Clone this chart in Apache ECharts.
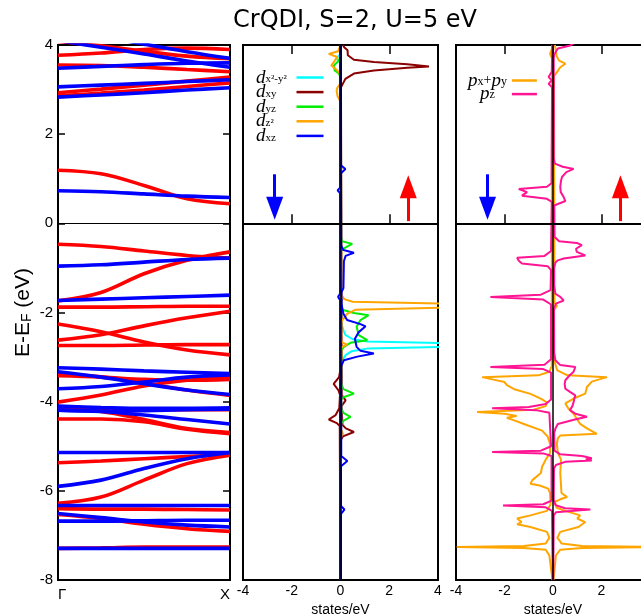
<!DOCTYPE html>
<html><head><meta charset="utf-8">
<script src="https://cdn.jsdelivr.net/npm/echarts@6/dist/echarts.min.js"></script>
<style>html,body{margin:0;padding:0;background:#fff}#c{width:641px;height:616px}</style>
</head><body><div id="c"></div>
<script>
// ---- band structure: k samples along Γ → X (fractional path length) ----
const kPath = [0, 0.25, 0.5, 0.75, 1];
const kLabels = ['Γ', 'X'];

// spin-up bands, E - E_F (eV) at each k sample
const bandsUp = [
  [1.19, 1.11, 0.85, 0.55, 0.44],
  [-0.47, -0.52, -0.62, -0.72, -0.78],
  [-1.74, -1.55, -1.13, -0.83, -0.64],
  [-1.88, -1.88, -1.87, -1.86, -1.86],
  [-2.26, -2.43, -2.66, -2.84, -2.95],
  [-2.62, -2.50, -2.30, -2.12, -1.97],
  [-2.74, -2.74, -2.73, -2.72, -2.72],
  [-3.38, -3.44, -3.58, -3.74, -3.86],
  [-4.01, -3.85, -3.65, -3.52, -3.46],
  [-3.42, -3.45, -3.50, -3.52, -3.50],
  [-4.15, -4.22, -4.40, -4.60, -4.69],
  [-4.39, -4.39, -4.45, -4.62, -4.72],
  [-4.14, -4.16, -4.17, -4.18, -4.18],
  [-5.37, -5.33, -5.28, -5.23, -5.19],
  [-6.28, -6.14, -5.76, -5.39, -5.20],
  [-6.40, -6.41, -6.41, -6.42, -6.43],
  [-6.53, -6.62, -6.75, -6.85, -6.91],
  [-7.29, -7.28, -7.26, -7.26, -7.26],
  [2.86, 2.92, 2.99, 3.07, 3.15],
  [2.93, 3.01, 3.10, 3.19, 3.28],
  [3.55, 3.54, 3.50, 3.45, 3.40],
  [3.77, 3.82, 3.90, 3.93, 3.90],
  [4.08, 3.98, 3.86, 3.75, 3.69]
];

// spin-down bands, E - E_F (eV) at each k sample
const bandsDown = [
  [0.73, 0.71, 0.66, 0.61, 0.58],
  [-0.96, -0.93, -0.87, -0.81, -0.78],
  [-1.73, -1.70, -1.67, -1.64, -1.61],
  [-3.24, -3.27, -3.31, -3.34, -3.37],
  [-3.33, -3.45, -3.60, -3.74, -3.84],
  [-3.71, -3.66, -3.56, -3.45, -3.40],
  [-4.10, -4.13, -4.15, -4.15, -4.14],
  [-4.19, -4.21, -4.20, -4.18, -4.17],
  [-4.19, -4.22, -4.30, -4.40, -4.50],
  [-5.14, -5.14, -5.14, -5.14, -5.14],
  [-5.90, -5.76, -5.50, -5.28, -5.14],
  [-6.33, -6.33, -6.33, -6.33, -6.33],
  [-6.51, -6.60, -6.70, -6.77, -6.81],
  [-6.68, -6.68, -6.67, -6.66, -6.66],
  [-7.29, -7.29, -7.29, -7.29, -7.29],
  [2.83, 2.88, 2.93, 2.99, 3.04],
  [3.06, 3.10, 3.14, 3.18, 3.22],
  [3.48, 3.52, 3.56, 3.59, 3.60],
  [4.10, 3.95, 3.80, 3.64, 3.50],
  [4.40, 4.20, 4.02, 3.85, 3.70]
];

// ---- Cr d-projected DOS: [E - E_F (eV), states/eV]; spin up > 0, spin down < 0 ----
const dx2y2Up = [[-8,0.01],[-3.2,0.02],[-3.05,0.1],[-2.95,0.22],[-2.87,0.45],[-2.81,1.1],[-2.77,4.5],[-2.73,9],[-2.69,4.5],[-2.65,1.1],[-2.6,0.5],[-2.5,0.2],[-2.4,0.12],[-2.25,0.04],[4,0.01]];
const dx2y2Dn = [[-8,-0.01],[3.6,-0.01],[3.7,-0.18],[3.78,-0.02],[4,-0.01]];
const dxyUp = [[-8,0.01],[-7.32,0.01],[-7.28,0.06],[-7.24,0.01],[-4.85,0.02],[-4.78,0.1],[-4.68,0.55],[-4.6,0.22],[-4.52,0.08],[-4.1,0.04],[-3.97,0.21],[-3.85,0.05],[3.05,0.02],[3.24,0.2],[3.36,0.55],[3.43,1.37],[3.49,2.74],[3.52,3.63],[3.57,2.74],[3.62,1.37],[3.67,0.55],[3.77,0.3],[3.88,0.29],[3.95,0.15],[4,0.1]];
const dxyDn = [[-8,-0.01],[-7.3,-0.01],[-7.28,-0.05],[-7.26,-0.01],[-4.55,-0.03],[-4.48,-0.15],[-4.40,-0.48],[-4.3,-0.2],[-4.15,-0.05],[-3.85,-0.02],[-3.75,-0.08],[-3.6,-0.28],[-3.45,-0.06],[-3.3,-0.01],[4,-0.01]];
const dyzUp = [[-8,0.01],[-4.5,0.02],[-4.43,0.12],[-4.34,0.41],[-4.25,0.12],[-4.15,0.03],[-3.95,0.03],[-3.9,0.12],[-3.82,0.55],[-3.72,0.12],[-3.6,0.03],[-2.85,0.03],[-2.77,0.14],[-2.68,0.41],[-2.62,1.1],[-2.51,0.75],[-2.32,0.66],[-2.17,0.82],[-2.06,1.15],[-2.01,0.55],[-1.94,0.07],[-1.85,0.02],[-0.6,0.02],[-0.52,0.27],[-0.46,0.48],[-0.4,0.07],[-0.3,0.02],[4,0.01]];
const dyzDn = [[-8,-0.01],[3.3,-0.02],[3.36,-0.07],[3.43,-0.24],[3.54,-0.27],[3.65,-0.07],[3.72,-0.02],[4,-0.01]];
const dz2Up = [[-8,0.01],[-4.8,0.02],[-4.72,0.1],[-4.62,0.03],[-2.78,0.03],[-2.72,0.27],[-2.66,0.03],[-2.2,0.04],[-2.03,0.27],[-1.94,0.6],[-1.89,4.3],[-1.845,9],[-1.8,4.3],[-1.76,0.5],[-1.7,0.15],[-1.6,0.04],[4,0.01]];
const dz2Dn = [[-8,-0.01],[2.75,-0.02],[2.85,-0.12],[2.98,-0.16],[3.05,-0.12],[3.12,-0.02],[3.36,-0.02],[3.39,-0.07],[3.47,-0.21],[3.54,-0.38],[3.62,-0.27],[3.73,-0.14],[3.80,-0.48],[3.86,-0.1],[3.95,-0.03],[4,-0.02]];
const dxzUp = [[-8,0.02],[-6.52,0.02],[-6.42,0.16],[-6.34,0.02],[-5.45,0.02],[-5.33,0.28],[-5.22,0.03],[-3.2,0.03],[-3.07,0.14],[-2.99,0.69],[-2.92,1.37],[-2.86,0.82],[-2.77,0.66],[-2.59,0.59],[-2.44,0.75],[-2.31,1.03],[-2.26,0.82],[-2.17,0.27],[-2.03,0.12],[-1.8,0.04],[-1.55,0.04],[-1.45,0.12],[-0.85,0.14],[-0.73,0.21],[-0.66,0.55],[-0.6,0.12],[-0.5,0.03],[1.12,0.02],[1.22,0.2],[1.3,0.02],[4,0.02]];
const dxzDn = [[-8,-0.02],[-1.72,-0.02],[-1.65,-0.1],[-1.58,-0.02],[0.68,-0.02],[0.74,-0.12],[0.8,-0.02],[4,-0.02]];

// ---- ligand p-projected DOS ----
const pxyUp = [[-8,0.02],[-7.45,0.12],[-7.32,0.3],[-7.28,1.2],[-7.26,5],[-7.24,1.2],[-7.18,0.35],[-7.05,0.18],[-6.92,0.3],[-6.81,1.05],[-6.7,1.33],[-6.62,1.0],[-6.55,1.12],[-6.45,0.51],[-6.38,0.15],[-6.25,0.08],[-6.19,0.3],[-6.14,0.58],[-6.05,0.35],[-5.6,0.3],[-5.3,0.33],[-5.15,0.2],[-4.95,0.16],[-4.82,0.2],[-4.76,0.3],[-4.72,1.81],[-4.6,1.4],[-4.5,1.12],[-4.4,1.0],[-4.27,0.85],[-4.16,0.64],[-4.04,0.51],[-3.93,0.85],[-3.82,1.33],[-3.67,1.4],[-3.55,1.6],[-3.45,2.22],[-3.41,0.6],[-3.3,0.18],[-3.1,0.06],[-1.95,0.04],[-1.85,0.16],[-1.78,0.06],[3.3,0.04],[3.42,0.2],[3.5,0.3],[3.58,0.51],[3.65,0.25],[3.75,0.15],[4,0.08]];
const pxyDn = [[-8,-0.02],[-7.45,-0.15],[-7.32,-0.3],[-7.28,-1.2],[-7.26,-3.97],[-7.24,-1.2],[-7.18,-0.3],[-7.05,-0.15],[-6.92,-0.25],[-6.81,-0.93],[-6.75,-1.48],[-6.7,-1.3],[-6.62,-1.48],[-6.55,-0.93],[-6.45,-0.25],[-6.3,-0.1],[-6.05,-0.12],[-5.95,-0.2],[-5.88,-0.55],[-5.84,-0.93],[-5.76,-0.85],[-5.6,-0.5],[-5.46,-0.45],[-5.3,-0.3],[-5.15,-0.12],[-4.95,-0.12],[-4.78,-0.22],[-4.65,-0.45],[-4.5,-1.2],[-4.42,-1.6],[-4.36,-1.9],[-4.32,-1.5],[-4.27,-2.0],[-4.23,-3.13],[-4.18,-0.8],[-4.1,-0.3],[-4.02,-0.25],[-3.95,-0.45],[-3.88,-0.7],[-3.82,-0.96],[-3.72,-1.6],[-3.63,-1.9],[-3.56,-2.0],[-3.5,-2.5],[-3.45,-2.92],[-3.41,-0.6],[-3.33,-0.15],[-3.2,-0.05],[3.7,-0.04],[3.8,-0.12],[3.9,-0.05],[4,-0.03]];
const pzUp = [[-8,0.01],[-6.55,0.03],[-6.48,0.12],[-6.44,1.0],[-6.42,1.54],[-6.39,0.5],[-6.32,0.1],[-6.2,0.03],[-5.5,0.04],[-5.42,0.12],[-5.35,0.5],[-5.32,1.6],[-5.29,1.35],[-5.27,1.6],[-5.22,1.2],[-5.18,0.3],[-5.1,0.06],[-4.7,0.05],[-4.6,0.1],[-4.5,0.2],[-4.4,0.9],[-4.34,1.4],[-4.27,0.92],[-4.19,0.7],[-4.1,0.8],[-4.01,0.85],[-3.93,0.88],[-3.86,0.92],[-3.78,0.7],[-3.71,0.51],[-3.6,0.48],[-3.52,0.51],[-3.4,0.7],[-3.33,0.85],[-3.22,0.92],[-3.18,0.3],[-3.07,0.1],[-2.9,0.04],[-1.9,0.04],[-1.8,0.12],[-1.73,0.44],[-1.65,0.3],[-1.58,0.1],[-1.4,0.04],[-1.0,0.04],[-0.88,0.1],[-0.83,0.2],[-0.79,0.44],[-0.72,1.33],[-0.64,0.98],[-0.57,0.95],[-0.49,1.19],[-0.44,0.98],[-0.4,0.25],[-0.3,0.06],[0.4,0.05],[0.44,0.1],[0.5,0.51],[0.59,0.44],[0.7,0.32],[0.82,0.3],[0.95,0.33],[1.04,0.37],[1.15,0.55],[1.22,0.85],[1.27,0.4],[1.34,0.08],[1.45,0.03],[3.7,0.03],[3.8,0.06],[3.92,0.2],[3.99,0.71],[4.05,0.9]];
const pzDn = [[-8,-0.01],[-6.45,-0.04],[-6.37,-0.3],[-6.33,-2.06],[-6.3,-0.4],[-6.22,-0.06],[-5.22,-0.06],[-5.16,-0.4],[-5.13,-2.51],[-5.1,-0.5],[-5.0,-0.08],[-4.25,-0.15],[-4.19,-0.7],[-4.15,-2.51],[-4.12,-1.0],[-4.05,-0.3],[-3.95,-0.08],[-3.35,-0.08],[-3.27,-0.4],[-3.22,-2.58],[-3.17,-0.35],[-3.05,-0.08],[-1.82,-0.08],[-1.71,-0.4],[-1.65,-2.58],[-1.6,-0.5],[-1.5,-0.1],[-1.05,-0.08],[-0.96,-0.22],[-0.90,-1.28],[-0.84,-1.41],[-0.77,-1.48],[-0.73,-0.35],[-0.62,-0.08],[0.48,-0.05],[0.55,-0.25],[0.62,-1.28],[0.70,-1.07],[0.77,-1.41],[0.82,-0.25],[0.9,-0.06],[3.05,-0.04],[3.13,-0.18],[3.21,-0.05],[3.28,-0.18],[3.4,-0.05],[4,-0.03]];

// ---- chart ----
const chart = echarts.init(document.getElementById('c'), null, {renderer: 'canvas'});
const black = '#000';
const tickFont = {fontFamily: 'Liberation Sans', fontSize: 14, color: black};

const frame = g => Object.assign({
  show: true, borderColor: black, borderWidth: 2, backgroundColor: 'transparent',
  containLabel: false, outerBoundsMode: 'none'
}, g);
const grids = [
  frame({left: 58, top: 45, width: 172, height: 535}),
  frame({left: 243, top: 45, width: 195, height: 535}),
  frame({left: 456, top: 45, width: 194, height: 535})
];

const eAxis = (gridIndex, extra) => Object.assign({
  type: 'value', gridIndex, min: -8, max: 4, interval: 2,
  axisLine: {show: false}, splitLine: {show: false},
  axisTick: {show: false}, axisLabel: {show: false}
}, extra);

const dosAxis = (gridIndex, position, showLabels) => ({
  type: 'value', gridIndex, position, min: -4, max: 4, interval: 2,
  axisLine: {show: false}, splitLine: {show: false},
  axisTick: {show: true, inside: true, length: 9, lineStyle: {color: black, width: 1.5}},
  axisLabel: Object.assign({show: showLabels, margin: 4}, tickFont),
  name: showLabels ? 'states/eV' : '', nameLocation: 'middle', nameGap: 15,
  nameTextStyle: {fontFamily: 'Liberation Sans', fontSize: 14, color: black}
});

const xAxes = [
  {
    type: 'value', gridIndex: 0, min: 0, max: 1, interval: 1,
    axisLine: {show: false}, splitLine: {show: false}, axisTick: {show: false},
    axisLabel: {
      margin: 7, fontFamily: 'Liberation Sans', fontSize: 15, color: black,
      alignMinLabel: 'left', alignMaxLabel: 'right',
      formatter: v => (v === 0 ? kLabels[0] : kLabels[1])
    }
  },
  dosAxis(1, 'bottom', true),
  dosAxis(1, 'top', false),
  dosAxis(2, 'bottom', true),
  dosAxis(2, 'top', false)
];

const yAxes = [
  eAxis(0, {
    position: 'left',
    axisTick: {show: true, inside: true, length: 7, lineStyle: {color: black, width: 1.5}},
    axisLabel: {show: true, margin: 5, fontFamily: 'Liberation Sans', fontSize: 15, color: black},
    name: '{a|E-E}{b|F}{a| (eV)}', nameLocation: 'middle', nameRotate: 90, nameGap: 24,
    nameTextStyle: {
      rich: {
        a: {fontFamily: 'Liberation Sans', fontSize: 21, lineHeight: 22, color: black},
        b: {fontFamily: 'Liberation Sans', fontSize: 14, lineHeight: 10, verticalAlign: 'bottom', color: black}
      }
    }
  }),
  eAxis(0, {position: 'right',
    axisTick: {show: true, inside: true, length: 7, lineStyle: {color: black, width: 1.5}}}),
  eAxis(1, {position: 'left'}),
  eAxis(2, {position: 'left'})
];

const series = [];

// band lines: spin up (red) first, spin down (blue) drawn over them
const bandLine = (energies, color) => ({
  type: 'line', xAxisIndex: 0, yAxisIndex: 0,
  data: energies.map((e, i) => [kPath[i], e]),
  smooth: 0.35, showSymbol: false, symbol: 'none', silent: true,
  lineStyle: {color, width: 3.6}
});
bandsUp.forEach(b => series.push(bandLine(b, '#ff0000')));
bandsDown.forEach(b => series.push(bandLine(b, '#0000ff')));

// E_F reference in the band panel
series.push({
  type: 'line', xAxisIndex: 0, yAxisIndex: 0, data: [[0, 0]], showSymbol: false, symbol: 'none', silent: true,
  lineStyle: {width: 0}, z: 3,
  markLine: {silent: true, symbol: ['none', 'none'], label: {show: false}, animation: false,
    lineStyle: {color: black, width: 1.2, type: 'solid'}, data: [{yAxis: 0}]}
});

// zero-DOS guide under the d curves
series.push({
  type: 'line', xAxisIndex: 1, yAxisIndex: 2, data: [[0, 0]], showSymbol: false, symbol: 'none', silent: true,
  lineStyle: {width: 0}, z: 1,
  markLine: {silent: true, symbol: ['none', 'none'], label: {show: false}, animation: false,
    lineStyle: {color: black, width: 1.5, type: 'solid'}, data: [{xAxis: 0}]}
});

const dosLine = (name, pts, color, xi, yi) => ({
  type: 'line', name, xAxisIndex: xi, yAxisIndex: yi,
  data: pts.map(p => [p[1], p[0]]),
  showSymbol: false, symbol: 'none', silent: true,
  lineStyle: {color, width: 2}, itemStyle: {color}
});

const dColors = {dx2y2: '#00ffff', dxy: '#8b0000', dyz: '#00ee00', dz2: '#ffa500', dxz: '#0000ff'};
const dSets = [['dx2y2', dx2y2Up, dx2y2Dn], ['dxy', dxyUp, dxyDn], ['dyz', dyzUp, dyzDn], ['dz2', dz2Up, dz2Dn], ['dxz', dxzUp, dxzDn]];
dSets.forEach(([n, up, dn]) => {
  series.push(dosLine(n, up, dColors[n], 1, 2));
  series.push(dosLine(n, dn, dColors[n], 1, 2));
});

const pColors = {pxy: '#ffa500', pz: '#ff1493'};
[['pxy', pxyUp, pxyDn], ['pz', pzUp, pzDn]].forEach(([n, up, dn]) => {
  series.push(dosLine(n, up, pColors[n], 3, 3));
  series.push(dosLine(n, dn, pColors[n], 3, 3));
});

// E_F line, zero-DOS line and spin arrows for the DOS panels
const spinArrows = [
  {x: -2.7, from: 1.10, to: 0.34, color: '#0000ff'},
  {x: 2.78, from: 0.05, to: 0.82, color: '#ff0000'}
];
const arrowLines = () => spinArrows.map(a => [
  {coord: [a.x, a.from], symbol: 'none', lineStyle: {color: a.color, width: 3, type: 'solid'}},
  {coord: [a.x, a.to], symbol: 'triangle', symbolSize: [17, 23], itemStyle: {color: a.color}}
]);
[[1, 2, false], [3, 3, true]].forEach(([xi, yi, zeroLine]) => {
  const data = [{yAxis: 0, lineStyle: {color: black, width: 2, type: 'solid'}}];
  if (zeroLine) data.push({xAxis: 0, lineStyle: {color: black, width: 1.5, type: 'solid'}});
  series.push({
    type: 'line', xAxisIndex: xi, yAxisIndex: yi, data: [[0, 0]], showSymbol: false, symbol: 'none', silent: true,
    lineStyle: {width: 0}, z: 4,
    markLine: {silent: true, symbol: ['none', 'none'], label: {show: false}, animation: false,
      data: data.concat(arrowLines())}
  });
});

// ---- legend labels (orbital symbols with subscripts) ----
const serif = '"Liberation Serif"';
const mctx = document.createElement('canvas').getContext('2d');
const textW = (str, font) => { mctx.font = font; return mctx.measureText(str).width; };

const dSubs = {dx2y2: 'x²-y²', dxy: 'xy', dyz: 'yz', dz2: 'z²', dxz: 'xz'};
const dRich = {
  d: {fontFamily: 'Liberation Serif', fontStyle: 'italic', fontSize: 19, lineHeight: 15, color: black},
  s: {fontFamily: 'Liberation Serif', fontSize: 11, lineHeight: 6, verticalAlign: 'bottom', color: black}
};
const subBox = 26;
Object.keys(dSubs).forEach(n => {
  dRich['g' + n] = {fontSize: 10, width: Math.max(0.5, subBox - textW(dSubs[n], '11px ' + serif))};
});
const dLabel = n => '{d|d}{s|' + dSubs[n] + '}{g' + n + '| }';

const pRich = {
  p: {fontFamily: 'Liberation Serif', fontStyle: 'italic', fontSize: 19, lineHeight: 14, color: black},
  s: {fontFamily: 'Liberation Serif', fontSize: 12, lineHeight: 6, verticalAlign: 'bottom', color: black},
  o: {fontFamily: 'Liberation Serif', fontSize: 14, lineHeight: 14, color: black}
};
const pxyW = 2 * textW('p', 'italic 19px ' + serif) + textW('x', '12px ' + serif) + textW('y', '12px ' + serif) + textW('+', '14px ' + serif);
const pzW = textW('p', 'italic 19px ' + serif) + textW('z', '12px ' + serif);
pRich.g = {fontSize: 10, width: Math.max(0.5, (pxyW - pzW) / 2)};
const pLabels = {pxy: '{p|p}{s|x}{o|+}{p|p}{s|y}', pz: '{p|p}{s|z}{g| }'};

chart.setOption({
  animation: false,
  backgroundColor: '#fff',
  title: {
    text: 'CrQDI, S=2, U=5 eV', left: 350, top: 4, textAlign: 'center',
    textStyle: {fontFamily: 'DejaVu Sans', fontSize: 24, fontWeight: 'normal', color: black}
  },
  grid: grids,
  xAxis: xAxes,
  yAxis: yAxes,
  legend: [
    {
      data: ['dx2y2', 'dxy', 'dyz', 'dz2', 'dxz'], orient: 'vertical', align: 'right',
      left: 251, top: 63, itemWidth: 27, itemHeight: 2.5, itemGap: -4.4, selectedMode: false,
      icon: 'rect',
      formatter: dLabel,
      textStyle: {rich: dRich}
    },
    {
      data: ['pxy', 'pz'], orient: 'vertical', align: 'right',
      left: 463, top: 66, itemWidth: 25, itemHeight: 2.5, itemGap: -5.4, selectedMode: false,
      icon: 'rect',
      formatter: n => pLabels[n],
      textStyle: {rich: pRich}
    }
  ],
  series
});
</script>
</body></html>
